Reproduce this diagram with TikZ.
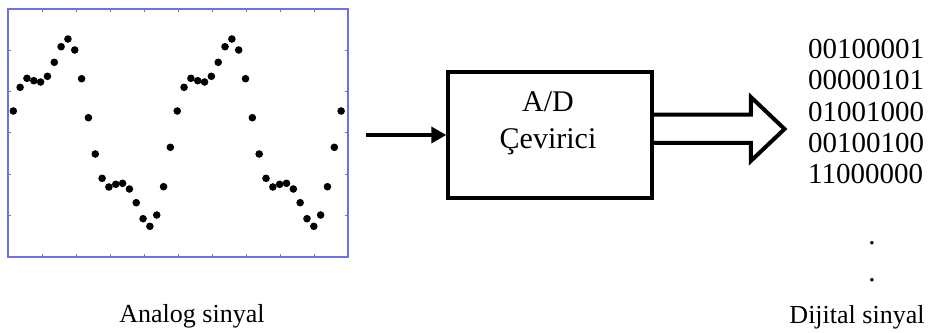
\documentclass[tikz,border=0pt]{standalone}
\usepackage{fontspec}
\setmainfont{Liberation Serif}
\usetikzlibrary{arrows.meta}
\definecolor{frameblue}{RGB}{112,112,235}
\tikzset{
  plotframe/.style={draw=frameblue, line width=1.6pt},
  tick/.style={draw=frameblue, line width=1pt},
  sample/.style={fill=black},
  converter/.style={draw=black, line width=4pt},
  boxtext/.style={anchor=base, inner sep=0pt, font=\fontsize{30}{36}\selectfont},
  bits/.style={anchor=base west, inner sep=0pt, font=\fontsize{29}{31}\selectfont},
  caption/.style={anchor=base, inner sep=0pt, font=\fontsize{26}{31}\selectfont},
  inarrow/.style={line width=4.7pt, -{Triangle[length=15pt,width=16pt]}},
  busarrow/.style={draw=black, line width=4pt, miter limit=10},
}
\begin{document}
\begin{tikzpicture}[x=1pt, y=-1pt]
  \useasboundingbox (0,0) rectangle (939,332);

  % sampled waveform plot
  \draw[plotframe] (8,9) rectangle (348,257);
  \foreach \k in {1,...,9} {
    \draw[tick] ({8+34*\k},9) -- ++(0,3);
    \draw[tick] ({8+34*\k},257) -- ++(0,-3);
  }
  \foreach \k in {1,...,5} {
    \draw[tick] (8,{9+41.33*\k}) -- ++(3,0);
    \draw[tick] (348,{9+41.33*\k}) -- ++(-3,0);
  }
  \foreach \yv [count=\i from 0] in {111,87.3,78.3,80.7,82,76.3,62.3,46.7,39,50,78.7,117.7,154,178.3,187,184.3,183.3,189,202.7,218.7,226.3,215,186.7,147.3} {
    \fill[sample] ({13.3+6.83*\i},\yv) circle (3.8pt);
    \fill[sample] ({13.3+6.83*(\i+24)},\yv) circle (3.8pt);
  }
  \fill[sample] ({13.3+6.83*48},111) circle (3.8pt);

  % converter block
  \coordinate (src) at (366,135);
  \node[converter, minimum width=203.5pt, minimum height=125.7pt, inner sep=0pt,
        anchor=north west] (adc) at (446.3,70.3) {};
  \node[boxtext] (ad1) at (548,111) {A/D};
  \node[boxtext] (ad2) at (548,148) {Çevirici};
  \draw[inarrow] (src) -- (adc.west |- src);

  % digital output bus arrow
  \draw[busarrow] (adc.east |- 0,114.5) -- (750.8,114.5) -- (750.8,97) -- (784.5,129)
        -- (750.8,161) -- (750.8,142.8) -- (adc.east |- 0,142.8);

  % output words
  \node[bits] (w1) at (808,58.3) {00100001};
  \node[bits] (w2) at (808,89.7) {00000101};
  \node[bits] (w3) at (808,121) {01001000};
  \node[bits] (w4) at (808,152.4) {00100100};
  \node[bits] (w5) at (808,183.8) {11000000};
  \node[bits, anchor=base] (e1) at (872,244) {.};
  \node[bits, anchor=base] (e2) at (872,281) {.};

  % captions
  \node[caption] (lblA) at (192,322) {Analog sinyal};
  \node[caption] (lblD) at (857,323) {Dijital sinyal};
\end{tikzpicture}
\end{document}
